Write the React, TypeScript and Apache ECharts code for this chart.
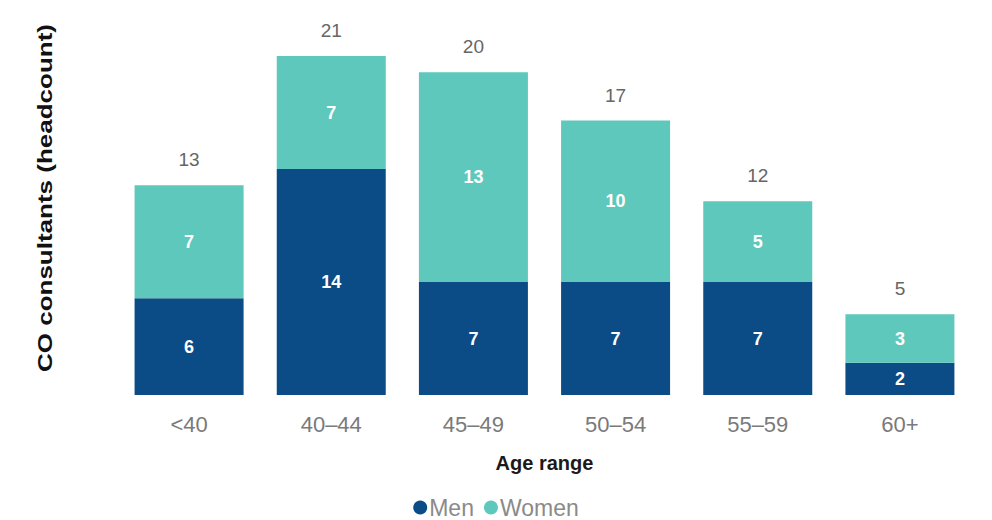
import React, { useEffect, useRef } from "react";
import * as echarts from "echarts";

const categories = ["<40", "40–44", "45–49", "50–54", "55–59", "60+"];
const men = [6, 14, 7, 7, 7, 2];
const women = [7, 7, 13, 10, 5, 3];
const totals = [13, 21, 20, 17, 12, 5];
const yTitle = "CO consultants (headcount)";

export default function App() {
  const ref = useRef<HTMLDivElement>(null);
  useEffect(() => {
    const chart = echarts.init(ref.current!, null, { renderer: "svg" });
    const font = "Liberation Sans, Arial, sans-serif";
    const inside = {
      show: true,
      position: "inside",
      color: "#ffffff",
      fontWeight: "bold",
      fontSize: 18,
      fontFamily: font,
    };
    chart.setOption({
      animation: false,
      backgroundColor: "#ffffff",
      grid: { left: 110, right: 13, top: 48, bottom: 125 },
      graphic: [
        {
          type: "text",
          x: 37,
          y: 190,
          rotation: Math.PI / 2,
          scaleX: 1.3,
          scaleY: 1,
          style: {
            text: yTitle,
            fill: "#111111",
            font: `bold 20px ${font}`,
            align: "center",
            verticalAlign: "middle",
          },
        },
      ],
      legend: {
        data: ["Men", "Women"],
        top: 483,
        left: "center",
        icon: "circle",
        itemWidth: 14,
        itemHeight: 14,
        itemGap: 10,
        textStyle: { color: "#8a8a8a", fontSize: 23, fontFamily: font, padding: [0, 0, 0, -3] },
      },
      xAxis: {
        type: "category",
        data: categories,
        name: "Age range",
        nameLocation: "middle",
        nameGap: 58,
        nameTextStyle: { color: "#1a1a1a", fontWeight: "bold", fontSize: 20, fontFamily: font },
        axisLine: { show: false },
        axisTick: { show: false },
        axisLabel: { color: "#7a7a7a", fontSize: 22, margin: 18, fontFamily: font },
      },
      yAxis: {
        type: "value",
        min: 0,
        max: 21,
        axisLine: { show: false },
        axisTick: { show: false },
        axisLabel: { show: false },
        splitLine: { show: false },
      },
      series: [
        {
          name: "Men",
          type: "bar",
          stack: "s",
          data: men,
          barWidth: 109,
          itemStyle: { color: "#0b4c86" },
          label: inside,
        },
        {
          name: "Women",
          type: "bar",
          stack: "s",
          data: women,
          itemStyle: { color: "#5fc8bc" },
          label: inside,
        },
        {
          name: "Total",
          type: "bar",
          stack: "s",
          data: totals.map(() => 0),
          itemStyle: { color: "transparent" },
          label: {
            show: true,
            position: "top",
            distance: 16,
            color: "#666666",
            fontSize: 19,
            fontFamily: font,
            formatter: (p: any) => String(totals[p.dataIndex]),
          },
        },
      ],
    });
    return () => chart.dispose();
  }, []);
  return <div ref={ref} style={{ width: 976, height: 512 }} />;
}
